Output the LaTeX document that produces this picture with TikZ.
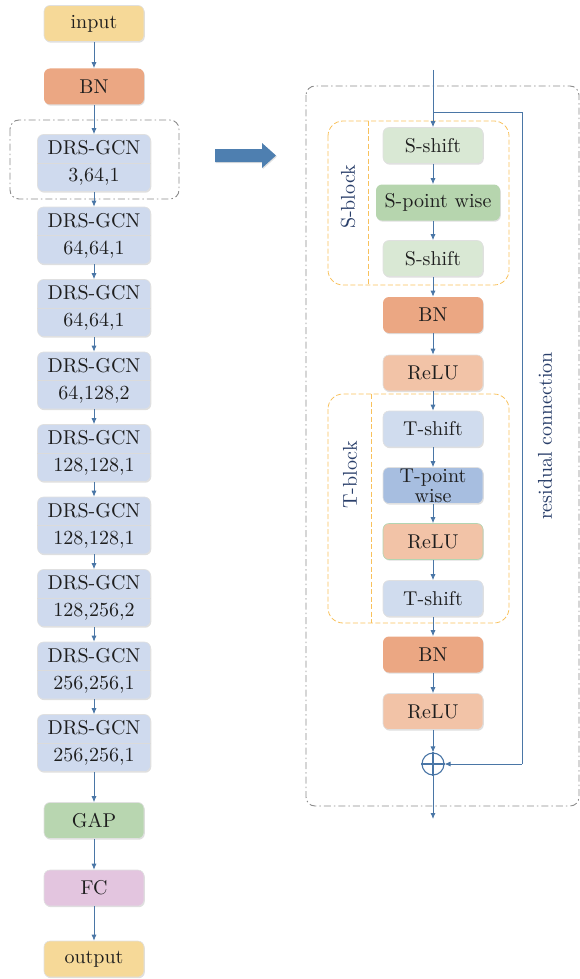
\documentclass[tikz,border=0pt]{standalone}
\usepackage{fontspec}
\setmainfont{lmroman10-regular.otf}
\usetikzlibrary{shadows,arrows.meta}
\definecolor{txt}{HTML}{1E1E1E}
\definecolor{lbl}{HTML}{2A3F6A}
\definecolor{arrowc}{HTML}{4A76A6}
\definecolor{bigarrow}{HTML}{4E7FB0}
\definecolor{cyellow}{HTML}{F6D998}
\definecolor{cbn}{HTML}{EBA783}
\definecolor{cgcn}{HTML}{CFDAEE}
\definecolor{cgap}{HTML}{B8D6B0}
\definecolor{cfc}{HTML}{E3C5DF}
\definecolor{csshift}{HTML}{D9E8D4}
\definecolor{cspw}{HTML}{B6D5AE}
\definecolor{crelu}{HTML}{F2C3A7}
\definecolor{ctshift}{HTML}{D0DCEE}
\definecolor{ctpw}{HTML}{A7BEE0}
\definecolor{corange}{HTML}{F8C15C}
\definecolor{cgray}{HTML}{8C8C8C}
\begin{document}
\begin{tikzpicture}[x=1pt,y=-1pt,
  box/.style={rounded corners=6pt, minimum width=100pt, minimum height=36pt, inner sep=0pt,
    font=\fontsize{20}{22}\selectfont, text=txt, draw=black!12, line width=0.6pt,
    drop shadow={opacity=0.25, shadow xshift=0.8pt, shadow yshift=-1.2pt}},
  gcn/.style={box, fill=cgcn, minimum width=113pt, minimum height=57pt, align=center,
    font=\fontsize{20}{27}\selectfont},
  arr/.style={-{Latex[length=6pt,width=5pt]}, draw=arrowc, line width=0.8pt},
  dashdot/.style={draw=cgray, line width=0.9pt, dash pattern=on 7pt off 3pt on 1.5pt off 3pt, rounded corners=9pt},
  orangebox/.style={draw=corange, line width=0.8pt, dash pattern=on 5pt off 2.5pt, rounded corners=15pt},
  orangeline/.style={draw=corange, line width=0.8pt, dash pattern=on 5pt off 2.5pt},
  vlabel/.style={rotate=90, text=lbl, font=\fontsize{20}{22}\selectfont, inner sep=0pt}
]
\useasboundingbox (0,0) rectangle (580,979);

% ---------- left column ----------
\draw[dashdot] (10,120) rectangle (179,199);
\node[box, fill=cyellow] (in) at (94,23.5) {input};
\node[box, fill=cbn, draw=none] (bn0) at (94,86.5) {BN};
\foreach \i/\t in {1/{3,64,1},2/{64,64,1},3/{64,64,1},4/{64,128,2},5/{128,128,1},6/{128,128,1},7/{128,256,2},8/{256,256,1},9/{256,256,1}}{
  \node[gcn] (g\i) at (94,{163+72.5*(\i-1)}) {DRS-GCN\\\t};
  \draw[black!14, line width=0.6pt] (g\i.west) -- (g\i.east);
}
\node[box, fill=cgap] (gap) at (94,820.5) {GAP};
\node[box, fill=cfc] (fc) at (94,888) {FC};
\node[box, fill=cyellow] (out) at (94,959) {output};

\draw[arr] (in) -- (bn0);
\draw[arr] (bn0) -- (g1);
\foreach \i [evaluate=\i as \j using int(\i+1)] in {1,...,8}{
  \draw[arr] (g\i) -- (g\j);
}
\draw[arr] (g9) -- (gap);
\draw[arr] (gap) -- (fc);
\draw[arr] (fc) -- (out);

% ---------- big arrow ----------
\fill[bigarrow, drop shadow={opacity=0.25, shadow xshift=0.8pt, shadow yshift=-1.2pt}]
  (215,149) -- (262,149) -- (262,143) -- (276,155.5) -- (262,168) -- (262,162) -- (215,162) -- cycle;

% ---------- right detail ----------
\draw[dashdot] (306,86) rectangle (579,806);
\draw[orangebox] (328,121) rectangle (509,285);
\draw[orangeline] (368,121) -- (368,285);
\draw[orangebox] (328,394) rectangle (509,623);
\draw[orangeline] (371,394) -- (371,623);

\node[vlabel] (sblk) at (348,197) {S-block};
\node[vlabel] (tblk) at (350,475) {T-block};
\node[vlabel] (resl) at (545,436) {residual connection};

\coordinate (top) at (433,70);
\coordinate (br) at (433,112);
\coordinate (bend1) at (522,112);
\coordinate (bottom) at (433,819);

\node[box, fill=csshift] (ss1) at (433,145.5) {S-shift};
\node[box, fill=cspw, draw=none, minimum width=124pt] (spw) at (438,202.5) {S-point wise};
\node[box, fill=csshift] (ss2) at (433,258.5) {S-shift};
\node[box, fill=cbn, draw=none] (bn1) at (433,315) {BN};
\node[box, fill=crelu] (r1) at (433,373) {ReLU};
\node[box, fill=ctshift] (ts1) at (433,429) {T-shift};
\node[box, fill=ctpw, align=center, font=\fontsize{20}{20}\selectfont] (tpw) at (433,485.5) {T-point\\wise};
\node[box, fill=crelu, draw=green!45!black!30] (r2) at (433,541.5) {ReLU};
\node[box, fill=ctshift] (ts2) at (433,598.5) {T-shift};
\node[box, fill=cbn, draw=none] (bn2) at (433,654.5) {BN};
\node[box, fill=crelu] (r3) at (433,711.5) {ReLU};
\node[circle, draw=arrowc, line width=1.1pt, minimum size=22pt, inner sep=0pt, fill=white] (plus) at (433,764) {};
\draw[arrowc, line width=1.1pt] (plus.north) -- (plus.south) (plus.west) -- (plus.east);

\draw[arr] (top) -- (ss1);
\draw[arrowc, line width=0.8pt] (br) -- (bend1) -- (bend1 |- plus);
\draw[arr] (bend1 |- plus) -- (plus.east);
\draw[arr] (ss1) -- (ss1 |- spw.north);
\draw[arr] (ss1 |- spw.south) -- (ss2);
\draw[arr] (ss2) -- (bn1);
\draw[arr] (bn1) -- (r1);
\draw[arr] (r1) -- (ts1);
\draw[arr] (ts1) -- (tpw);
\draw[arr] (tpw) -- (r2);
\draw[arr] (r2) -- (ts2);
\draw[arr] (ts2) -- (bn2);
\draw[arr] (bn2) -- (r3);
\draw[arr] (r3) -- (plus);
\draw[arr] (plus) -- (bottom);
\end{tikzpicture}
\end{document}
